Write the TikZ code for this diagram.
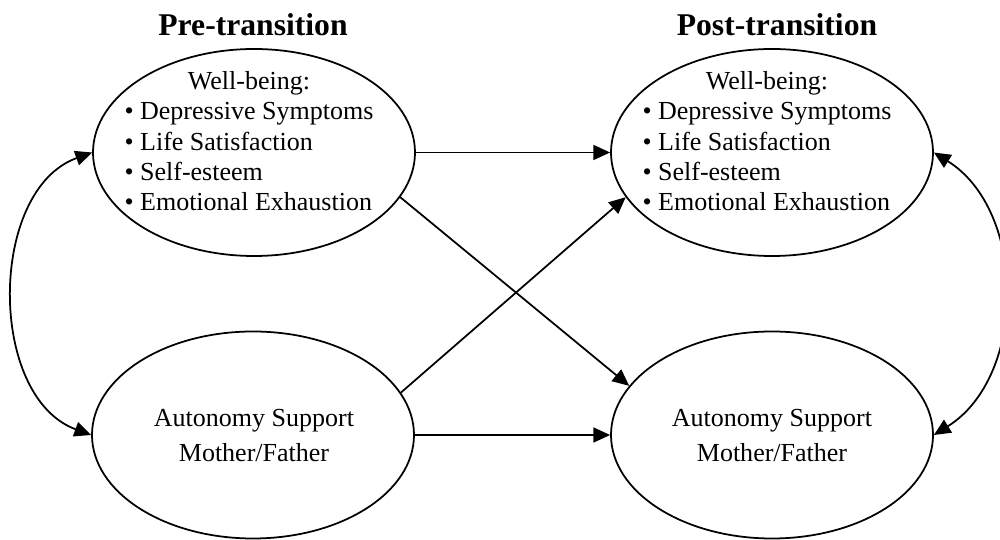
\documentclass[tikz,border=0pt]{standalone}
\usepackage{fontspec}
\setmainfont{Liberation Serif}
\usepackage{tikz}
\usetikzlibrary{shapes.geometric,arrows.meta}

\begin{document}
\begin{tikzpicture}[
  latent/.style = {draw, ellipse, line width = 1pt, inner sep = 0pt,
                   minimum width = 6.44cm, minimum height = 4.14cm},
  inside/.style = {inner sep = 0pt, font = \fontsize{14.8}{17.3}\selectfont},
  heading/.style = {inner sep = 0pt, font = \fontsize{18}{20}\selectfont\bfseries},
  path/.style = {line width = 1pt, -{Triangle[length = 9.5pt, width = 8.5pt]}},
  covar/.style = {line width = 1pt, {Triangle[length = 9.5pt, width = 8.5pt]}-{Triangle[length = 9.5pt, width = 8.5pt]}}
  ]
  \useasboundingbox (0,0) rectangle (20,10.8);
  % time points
  \node[heading] (pre)  at (5.06,10.30)  {Pre-transition};
  \node[heading] (post) at (15.54,10.30) {Post-transition};
  % latent variables
  \node[latent] (wbpre)  at (5.08,7.75)  {};
  \node[latent] (wbpost) at (15.44,7.75) {};
  \node[latent] (aspre)  at (5.06,2.10)  {};
  \node[latent] (aspost) at (15.44,2.10) {};
  \node[inside] (wbpretext) at (4.98,7.92) {\begin{tabular}{@{}l@{}}
      \multicolumn{1}{c}{Well-being:}\\
      \textbullet\ Depressive Symptoms\\
      \textbullet\ Life Satisfaction\\
      \textbullet\ Self-esteem\\
      \textbullet\ Emotional Exhaustion
    \end{tabular}};
  \node[inside] (wbposttext) at (15.34,7.92) {\begin{tabular}{@{}l@{}}
      \multicolumn{1}{c}{Well-being:}\\
      \textbullet\ Depressive Symptoms\\
      \textbullet\ Life Satisfaction\\
      \textbullet\ Self-esteem\\
      \textbullet\ Emotional Exhaustion
    \end{tabular}};
  \node[inside, align = center, font = \fontsize{14.8}{19.8}\selectfont] (asgtext) at (5.08,2.09)
    {Autonomy Support\\Mother/Father};
  \node[inside, align = center, font = \fontsize{14.8}{19.8}\selectfont] (asposttext) at (15.44,2.09)
    {Autonomy Support\\Mother/Father};
  % paths
  \draw[path] (wbpre.east) -- (wbpost.west);
  \draw[path] (aspre.east) -- (aspost.west);
  \draw[path] (wbpre.-17) -- (aspost.161);
  \draw[path] (aspre.16) -- (wbpost.197);
  % covariances
  \draw[covar] (wbpre.west) to[bend right = 70] (aspre.west);
  \draw[covar] (wbpost.east) to[bend left = 58] (aspost.east);
\end{tikzpicture}
\end{document}
